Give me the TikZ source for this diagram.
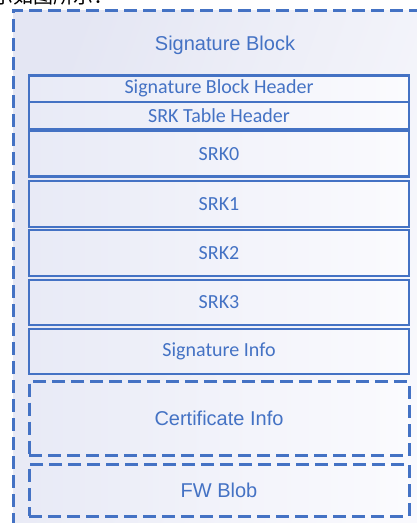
\documentclass[tikz,border=0pt]{standalone}
\usepackage{fontspec}
\setmainfont{Carlito}
\newfontfamily\arialf{Liberation Sans}
\newfontfamily\cjk{Noto Sans CJK SC}
\definecolor{lineblue}{RGB}{68,114,196}
\definecolor{lavL}{RGB}{228,230,243}
\definecolor{lavR}{RGB}{249,249,253}
\definecolor{boxL}{RGB}{232,234,246}
\definecolor{boxR}{RGB}{251,251,254}
\tikzset{
  solidbox/.style={draw=lineblue, line width=2.2pt, shade, left color=boxL, right color=boxR,
    minimum width=380pt, inner sep=0pt, outer sep=0pt, text=lineblue,
    font=\fontsize{20}{20}\selectfont},
  dashbox/.style={draw=lineblue, line width=3pt, dash pattern=on 13pt off 6pt,
    shade, left color=boxL, right color=boxR,
    minimum width=380pt, inner sep=0pt, outer sep=0pt, text=lineblue,
    font=\arialf\fontsize{20}{20}\selectfont}
}
\begin{document}
\begin{tikzpicture}[x=1pt,y=-1pt]
\useasboundingbox (0,0) rectangle (417,523);
\clip (0,0) rectangle (417,523);
% caption fragment at top
\node[anchor=base west, inner sep=0pt, font=\cjk\fontsize{20}{20}\selectfont] (cap) at (-7,3.5) {示如图所示：};
% outer block
\shade[left color=lavL, right color=lavR, shading angle=70] (13,10) rectangle (440,545);
\draw[lineblue, line width=3pt, dash pattern=on 13pt off 6pt] (13,545) -- (13,10) -- (440,10);
\node[text=lineblue, font=\arialf\fontsize{20}{20}\selectfont, inner sep=0pt] (title) at (225,45) {Signature Block};
% inner boxes
\node[solidbox, minimum height=26.5pt] (sbh) at (219,88.75) {Signature Block Header};
\node[solidbox, minimum height=27.5pt] (srkth) at (219,115.75) {SRK Table Header};
\node[solidbox, minimum height=45.5pt] (srk0) at (219,153.75) {SRK0};
\node[solidbox, minimum height=46pt] (srk1) at (219,204) {SRK1};
\node[solidbox, minimum height=46pt] (srk2) at (219,253) {SRK2};
\node[solidbox, minimum height=45pt] (srk3) at (219,302.5) {SRK3};
\node[solidbox, minimum height=45pt] (sinfo) at (219,351.5) {Signature Info};
\node[dashbox, minimum height=74pt] (cert) at (219,418.5) {Certificate Info};
\node[dashbox, minimum height=52pt] (fw) at (219,490) {FW Blob};
\end{tikzpicture}
\end{document}
